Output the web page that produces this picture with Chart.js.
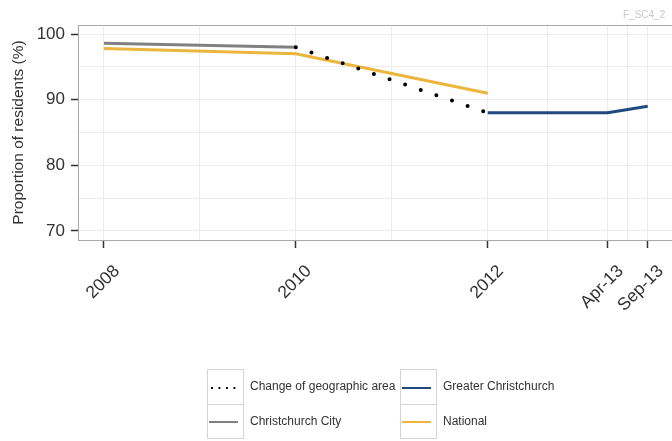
<!DOCTYPE html>
<html>
<head>
<meta charset="utf-8">
<script src="https://cdn.jsdelivr.net/npm/chart.js@4/dist/chart.umd.min.js"></script>
<style>
  body { margin: 0; background: #fff; font-family: "Liberation Sans", Arial, sans-serif; }
  #wrap { position: relative; width: 672px; height: 441px; overflow: hidden; }
  #tag { position: absolute; left: 623px; top: 9px; font-size: 10px; color: #c8c8c8; white-space: nowrap; }
  #legend { position: absolute; left: 207px; top: 369px; font-size: 12px; color: #333; }
  .row { display: flex; height: 35px; }
  .key { width: 35px; height: 34px; border: 1px solid #d4d4d4; position: relative; box-sizing: content-box; }
  .row + .row .key { border-top: none; }
  .key span { position: absolute; left: 1px; right: 5px; top: 17px; height: 2px; }
  .lab { line-height: 35px; padding-left: 6px; }
  .c1 { width: 150px; }
</style>
</head>
<body>
<div id="wrap">
  <canvas id="lineChart" width="672" height="441"></canvas>
  <div id="tag">F_SC4_2</div>
  <div id="legend"></div>
</div>
<script>

// DATA ######################################################################

var xTickValues = [2008, 2010, 2012, 2013.25, 2013.667];
var xTickLabels = ["2008", "2010", "2012", "Apr-13", "Sep-13"];
var xMinorValues = [2009, 2011, 2012.625, 2013.458];
var yTickValues = [70, 80, 90, 100];
var yMinorValues = [75, 85, 95];

var cityYears = [2008, 2010];
var cityValues = [98.6, 98.0];

var nationalYears = [2008, 2010, 2012];
var nationalValues = [97.8, 97.0, 91.0];

var changeYears = [2010, 2012];
var changeValues = [98.0, 88.0];

var greaterYears = [2012, 2013.25, 2013.667];
var greaterValues = [88.0, 88.0, 89.0];

function points(xs, ys) {
    return xs.map(function (x, i) { return { x: x, y: ys[i] }; });
}

// LINE GRAPH ################################################################

var tickDark = "#333333";
var gridLight = "#ececec";

var plotBorder = {
    id: "plotBorder",
    afterDraw: function (chart) {
        var a = chart.chartArea;
        var ctx = chart.ctx;
        ctx.save();
        ctx.strokeStyle = "#a8a8a8";
        ctx.lineWidth = 1;
        ctx.strokeRect(a.left + 0.5, a.top + 0.5, a.right - a.left + 10, a.bottom - a.top);
        ctx.restore();
    }
};

var ctx_line = document.getElementById("lineChart");
var myLineGraph = new Chart(ctx_line, {
    type: "line",
    data: {
        datasets: [
            {
                label: "Change of geographic area",
                data: points(changeYears, changeValues),
                borderColor: "#000000",
                borderWidth: 4,
                borderDash: [0, 16.5],
                borderCapStyle: "round",
                pointRadius: 0,
                order: 0
            },
            {
                label: "Christchurch City",
                data: points(cityYears, cityValues),
                borderColor: "#808080",
                borderWidth: 3,
                pointRadius: 0,
                order: 2
            },
            {
                label: "Greater Christchurch",
                data: points(greaterYears, greaterValues),
                borderColor: "#1f4a80",
                borderWidth: 3,
                pointRadius: 0,
                order: 1
            },
            {
                label: "National",
                data: points(nationalYears, nationalValues),
                borderColor: "#ecb53c",
                borderWidth: 3,
                pointRadius: 0,
                order: 3
            }
        ]
    },
    options: {
        responsive: false,
        animation: false,
        layout: { padding: { top: 25, bottom: 111, left: 0, right: 0 } },
        plugins: { legend: { display: false }, tooltip: { enabled: false } },
        scales: {
            x: {
                type: "linear",
                min: 2007.73,
                max: 2013.92,
                afterBuildTicks: function (scale) {
                    scale.ticks = xTickValues.concat(xMinorValues)
                        .sort(function (a, b) { return a - b; })
                        .map(function (v) { return { value: v }; });
                },
                afterFit: function (scale) {
                    scale.height = 90;
                    scale.paddingLeft = 0;
                    scale.paddingRight = 0;
                },
                border: { display: false },
                grid: {
                    color: gridLight,
                    lineWidth: 1,
                    tickLength: 8,
                    tickWidth: 1.5,
                    tickColor: function (c) {
                        return xTickValues.indexOf(c.tick.value) >= 0 ? tickDark : "rgba(0,0,0,0)";
                    }
                },
                ticks: {
                    autoSkip: false,
                    minRotation: 45,
                    maxRotation: 45,
                    padding: 13,
                    labelOffset: 13,
                    color: tickDark,
                    font: { family: "Liberation Sans", size: 17.5 },
                    callback: function (v) {
                        var i = xTickValues.indexOf(v);
                        return i >= 0 ? xTickLabels[i] : "";
                    }
                }
            },
            y: {
                min: 68.6,
                max: 101.4,
                afterBuildTicks: function (scale) {
                    scale.ticks = yTickValues.concat(yMinorValues)
                        .sort(function (a, b) { return a - b; })
                        .map(function (v) { return { value: v }; });
                },
                afterFit: function (scale) { scale.width = 78; },
                border: { display: false },
                grid: {
                    color: gridLight,
                    lineWidth: 1,
                    tickLength: 7,
                    tickWidth: 1.5,
                    tickColor: function (c) {
                        return yTickValues.indexOf(c.tick.value) >= 0 ? tickDark : "rgba(0,0,0,0)";
                    }
                },
                ticks: {
                    autoSkip: false,
                    padding: 6,
                    color: tickDark,
                    font: { family: "Liberation Sans", size: 17 },
                    callback: function (v) {
                        return yTickValues.indexOf(v) >= 0 ? String(v) : "";
                    }
                },
                title: {
                    display: true,
                    text: "Proportion of residents (%)",
                    color: tickDark,
                    padding: { top: 9, bottom: 4 },
                    font: { family: "Liberation Sans", size: 15.5 }
                }
            }
        }
    },
    plugins: [plotBorder]
});

// LEGEND ####################################################################

function keyLine(ds) {
    if (ds.borderDash && ds.borderDash.length) {
        return '<span style="left:3px;right:3px;background:linear-gradient(to right,' + ds.borderColor +
            ' 2px, transparent 2px) 0 0 / 7.5px 2px repeat-x"></span>';
    }
    return '<span style="background:' + ds.borderColor + '"></span>';
}

var legendOrder = [[0, 2], [1, 3]];
var sets = myLineGraph.data.datasets;
var html = "";
legendOrder.forEach(function (row) {
    html += '<div class="row">';
    row.forEach(function (idx, col) {
        html += '<div class="key">' + keyLine(sets[idx]) + '</div>';
        html += '<div class="lab' + (col === 0 ? ' c1' : '') + '">' + sets[idx].label + '</div>';
    });
    html += '</div>';
});
document.getElementById("legend").innerHTML = html;

</script>
</body>
</html>
